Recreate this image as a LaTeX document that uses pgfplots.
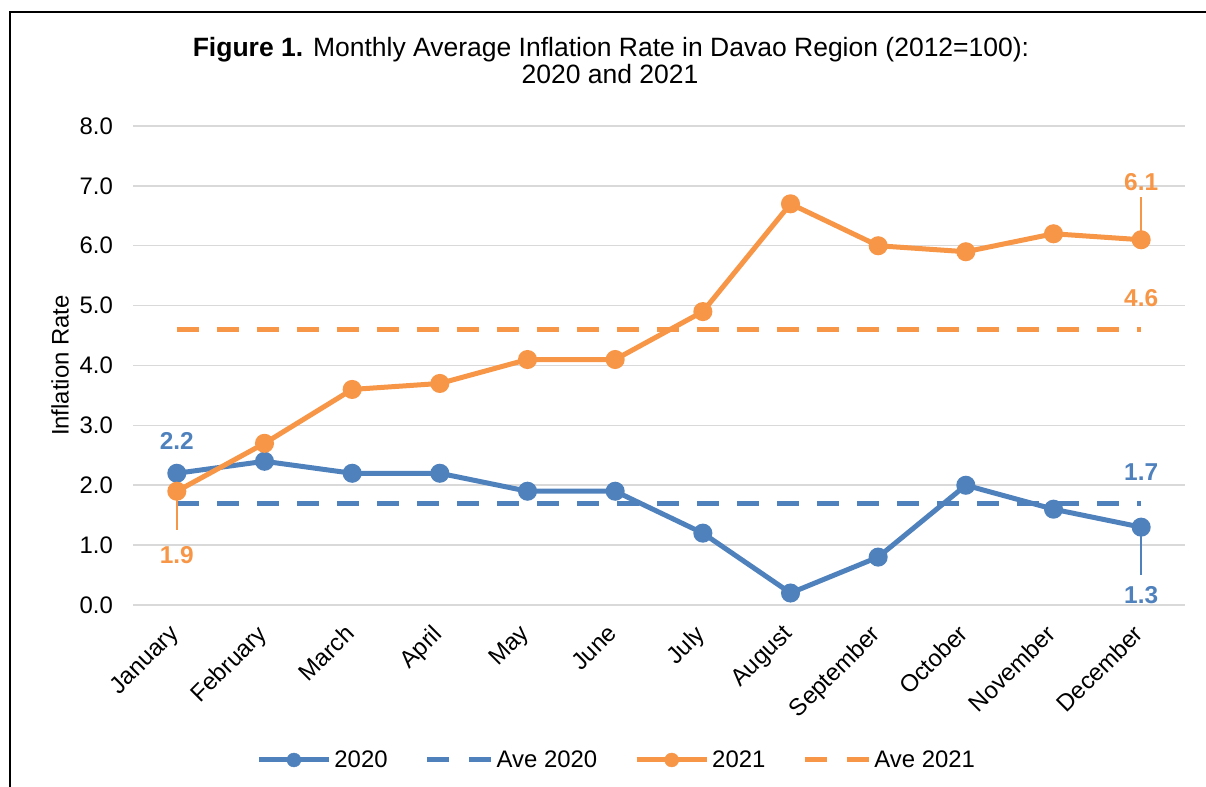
\documentclass[border=0pt]{standalone}
\usepackage{fontspec}
\setmainfont{Liberation Sans}
\usepackage{pgfplots}
\pgfplotsset{compat=1.18}
\definecolor{cblue}{RGB}{79,129,189}
\definecolor{corange}{RGB}{247,150,70}
\definecolor{cgrid}{RGB}{217,217,217}
\begin{document}
\begin{tikzpicture}[x=1bp,y=1bp]
\useasboundingbox (0,0) rectangle (1206,787);
\draw[line width=2.5bp] (10,0) -- (10,775) -- (1206,775);
\node[anchor=base, font=\fontsize{26.6}{31}\selectfont] at (611,730) {\textbf{Figure 1.} Monthly Average Inflation Rate in Davao Region (2012=100):};
\node[anchor=base, font=\fontsize{26.6}{31}\selectfont] at (610,703) {2020 and 2021};
\begin{axis}[
  at={(133bp,182bp)}, anchor=south west, scale only axis,
  width=1052bp, height=479bp,
  xmin=-0.5, xmax=11.5, ymin=0, ymax=8,
  xtick={0,...,11},
  xticklabels={January,February,March,April,May,June,July,August,September,October,November,December},
  ytick={0,1,...,8},
  yticklabel style={/pgf/number format/fixed, /pgf/number format/fixed zerofill, /pgf/number format/precision=1, /pgf/number format/assume math mode=true},
  tick label style={font=\fontsize{24}{28}\selectfont},
  y tick label style={anchor=east, inner sep=0pt, xshift=-20bp},
  x tick label style={rotate=45, anchor=north east, inner sep=0pt, xshift=-19bp, yshift=-6.5bp},
  major tick length=0pt,
  axis line style={draw=none},
  ymajorgrids, grid style={cgrid, line width=1.5bp},
  ylabel={Inflation Rate},
  every axis y label/.style={at={(axis description cs:-0.0694,0.5)}, rotate=90, anchor=center, font=\fontsize{24}{28}\selectfont},
  legend columns=4,
  legend style={at={(axis description cs:0.4603,-0.3236)}, anchor=center, draw=none, font=\fontsize{24}{28}\selectfont,
    /tikz/every even column/.append style={column sep=34bp},
    nodes={inner sep=3bp}},
  clip=false,
]
\addplot[forget plot, cblue, line width=5bp, dash pattern=on 22bp off 18bp] coordinates {(0,1.7) (11,1.7)};
\addplot[forget plot, corange, line width=5bp, dash pattern=on 22bp off 18bp] coordinates {(0,4.6) (11,4.6)};
\addplot[forget plot, cblue, line width=5bp, mark=*, mark size=7bp, mark options={solid, fill=cblue}] coordinates {
(0,2.2) (1,2.4) (2,2.2) (3,2.2) (4,1.9) (5,1.9) (6,1.2) (7,0.2) (8,0.8) (9,2.0) (10,1.6) (11,1.3)};
\addplot[forget plot, corange, line width=5bp, mark=*, mark size=7bp, mark options={solid, fill=corange}] coordinates {
(0,1.9) (1,2.7) (2,3.6) (3,3.7) (4,4.1) (5,4.1) (6,4.9) (7,6.7) (8,6.0) (9,5.9) (10,6.2) (11,6.1)};
\addlegendimage{legend image code/.code={\draw[cblue, line width=5bp] (0bp,0bp) -- (70bp,0bp); \fill[cblue] (35bp,0bp) circle (7bp);}}
\addlegendentry{2020}
\addlegendimage{legend image code/.code={\draw[cblue, line width=5bp, dash pattern=on 22bp off 20bp] (0bp,0bp) -- (64bp,0bp);}}
\addlegendentry{Ave 2020}
\addlegendimage{legend image code/.code={\draw[corange, line width=5bp] (0bp,0bp) -- (70bp,0bp); \fill[corange] (35bp,0bp) circle (7bp);}}
\addlegendentry{2021}
\addlegendimage{legend image code/.code={\draw[corange, line width=5bp, dash pattern=on 22bp off 20bp] (0bp,0bp) -- (64bp,0bp);}}
\addlegendentry{Ave 2021}
% data labels
\node[text=cblue, font=\bfseries\fontsize{24.5}{28}\selectfont] at (axis cs:0,2.74) {2.2};
\draw[corange, line width=1.5bp] (axis cs:0,1.9) -- (axis cs:0,1.25);
\node[text=corange, font=\bfseries\fontsize{24.5}{28}\selectfont] at (axis cs:0,0.835) {1.9};
\node[text=cblue, font=\bfseries\fontsize{24.5}{28}\selectfont] at (axis cs:11,2.22) {1.7};
\node[text=corange, font=\bfseries\fontsize{24.5}{28}\selectfont] at (axis cs:11,5.13) {4.6};
\draw[corange, line width=1.5bp] (axis cs:11,6.1) -- (axis cs:11,6.81);
\node[text=corange, font=\bfseries\fontsize{24.5}{28}\selectfont] at (axis cs:11,7.06) {6.1};
\draw[cblue, line width=1.5bp] (axis cs:11,1.3) -- (axis cs:11,0.5);
\node[text=cblue, font=\bfseries\fontsize{24.5}{28}\selectfont] at (axis cs:11,0.17) {1.3};
\end{axis}
\end{tikzpicture}
\end{document}
